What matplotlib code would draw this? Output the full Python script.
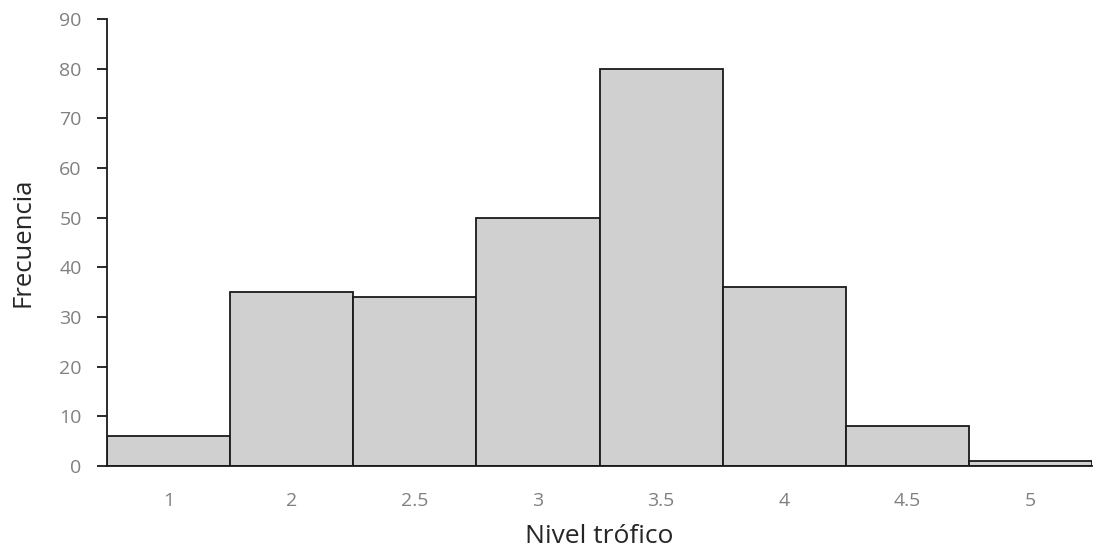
import matplotlib
matplotlib.use("Agg")
import matplotlib.pyplot as plt

categories = ["1", "2", "2.5", "3", "3.5", "4", "4.5", "5"]
frecuencia = [6, 35, 34, 50, 80, 36, 8, 1]
y_ticks = [0, 10, 20, 30, 40, 50, 60, 70, 80, 90]

plt.rcParams['font.family'] = ['Open Sans', 'DejaVu Sans']

fig = plt.figure(figsize=(10.93, 5.52), dpi=100)
ax = fig.add_axes([0.0979, 0.1558, 0.9012, 0.8098])

x = list(range(len(categories)))
ax.bar(x, frecuencia, width=1.0, color="#d0d0d0", edgecolor="#1a1a1a", linewidth=1.3)

ax.set_xlim(-0.5, len(categories) - 0.5)
ax.set_ylim(0, 90)
ax.set_yticks(y_ticks)
ax.set_xticks(x)
ax.set_xticklabels(categories)

for s in ["top", "right"]:
    ax.spines[s].set_visible(False)
for s in ["left", "bottom"]:
    ax.spines[s].set_linewidth(1.3)
    ax.spines[s].set_color("#1a1a1a")

ax.tick_params(axis="y", direction="out", length=7.2, width=1.3, colors="#1a1a1a",
               labelcolor="#808080", labelsize=14, pad=11)
ax.tick_params(axis="x", length=0, labelcolor="#808080", labelsize=14, pad=19)

ax.set_xlabel("Nivel trófico", fontsize=19, color="#262626", labelpad=10)
ax.set_ylabel("Frecuencia", fontsize=18.5, color="#262626", labelpad=17)

fig.savefig("out.png", dpi=100)
